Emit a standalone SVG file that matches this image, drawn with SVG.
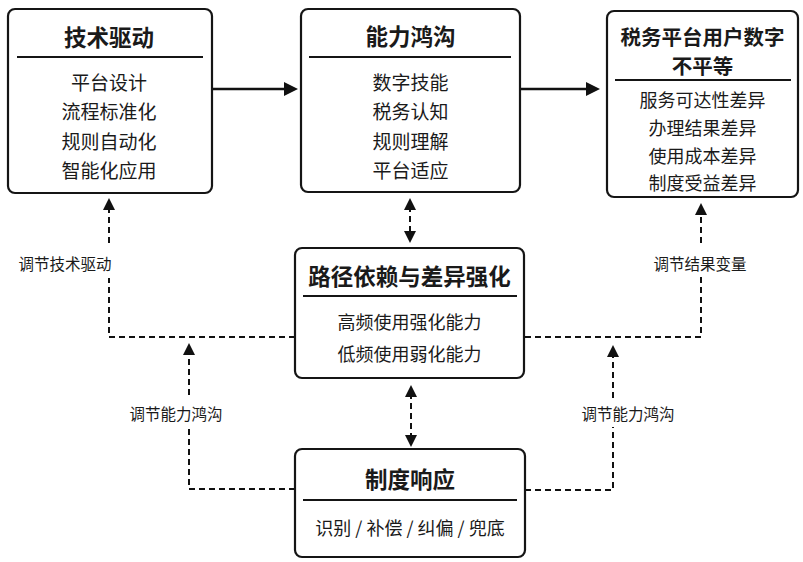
<svg xmlns="http://www.w3.org/2000/svg" width="803" height="562" viewBox="0 0 803 562">
<style>
text{font-family:"Noto Sans CJK SC","Noto Sans",sans-serif;fill:#1a1a1a;text-anchor:middle;dominant-baseline:central}
.box{fill:#fff;stroke:#151515;stroke-width:2.2}
.div{stroke:#151515;stroke-width:2.2}
.t{font-size:22.5px;font-weight:700}
.t3{font-size:20.5px;font-weight:700}
.i{font-size:18px}
.ib{font-size:19px}
.lb{font-size:15.5px}
.solid{fill:none;stroke:#111;stroke-width:2.5}
.dash{fill:none;stroke:#111;stroke-width:2;stroke-dasharray:6 4}
.bg{fill:#fff}
</style>
<defs>
<marker id="ah" viewBox="0 0 12 12" refX="4" refY="6" markerWidth="12" markerHeight="12" markerUnits="userSpaceOnUse" orient="auto-start-reverse">
<path d="M0,0 L12,6 L0,12 z" fill="#111"/>
</marker>
<marker id="ahs" viewBox="0 0 14 14" refX="4" refY="7" markerWidth="14" markerHeight="14" markerUnits="userSpaceOnUse" orient="auto">
<path d="M0,0 L14,7 L0,14 z" fill="#111"/>
</marker>
</defs>
<rect width="803" height="562" fill="#fff"/>
<g id="connectors">
<path class="solid" d="M212,89 H288" marker-end="url(#ahs)"/>
<path class="solid" d="M520,89 H590" marker-end="url(#ahs)"/>
<path class="dash" d="M410,206 V235" marker-start="url(#ah)" marker-end="url(#ah)"/>
<path class="dash" d="M411,393 V439" marker-start="url(#ah)" marker-end="url(#ah)"/>
<path class="dash" d="M295,337 H109 V206" marker-end="url(#ah)"/>
<path class="dash" d="M525,337 H701 V211" marker-end="url(#ah)"/>
<path class="dash" d="M295,489 H189 V351" marker-end="url(#ah)"/>
<path class="dash" d="M525,490 H613 V353" marker-end="url(#ah)"/>
<rect class="bg" x="16" y="247" width="98" height="31"/>
<text class="lb" x="65" y="263">调节技术驱动</text>
<rect class="bg" x="651" y="245" width="98" height="32"/>
<text class="lb" x="700" y="263">调节结果变量</text>
<rect class="bg" x="128" y="398" width="96" height="29"/>
<text class="lb" x="176" y="413">调节能力鸿沟</text>
<rect class="bg" x="579" y="398" width="98" height="29"/>
<text class="lb" x="628" y="413">调节能力鸿沟</text>
</g>
<g id="tech">
<rect class="box" x="8" y="9" width="204" height="184" rx="7"/>
<text class="t" x="109" y="36">技术驱动</text>
<line class="div" x1="17" y1="57" x2="203" y2="57"/>
<text class="ib" x="109" y="81">平台设计</text>
<text class="ib" x="109" y="110.5">流程标准化</text>
<text class="ib" x="109" y="140">规则自动化</text>
<text class="ib" x="109" y="169.5">智能化应用</text>
</g>
<g id="gap">
<rect class="box" x="301" y="9" width="219" height="183" rx="7"/>
<text class="t" x="410.5" y="35">能力鸿沟</text>
<line class="div" x1="309" y1="57" x2="511" y2="57"/>
<text class="ib" x="410.5" y="81">数字技能</text>
<text class="ib" x="410.5" y="110.5">税务认知</text>
<text class="ib" x="410.5" y="140">规则理解</text>
<text class="ib" x="410.5" y="169.5">平台适应</text>
</g>
<g id="inequality">
<rect class="box" x="607" y="11" width="191" height="186" rx="7"/>
<text class="t3" x="702.5" y="36">税务平台用户数字</text>
<text class="t3" x="702.5" y="65">不平等</text>
<line class="div" x1="615" y1="80" x2="791" y2="80"/>
<text class="i" x="702.5" y="99">服务可达性差异</text>
<text class="i" x="702.5" y="127">办理结果差异</text>
<text class="i" x="702.5" y="154.5">使用成本差异</text>
<text class="i" x="702.5" y="182">制度受益差异</text>
</g>
<g id="path">
<rect class="box" x="295" y="248" width="229" height="130" rx="7"/>
<text class="t" x="409.5" y="275">路径依赖与差异强化</text>
<line class="div" x1="303" y1="296" x2="517" y2="296"/>
<text class="i" x="409.5" y="321">高频使用强化能力</text>
<text class="i" x="409.5" y="353">低频使用弱化能力</text>
</g>
<g id="institution">
<rect class="box" x="295" y="449" width="230" height="108" rx="7"/>
<text class="t" x="410" y="478">制度响应</text>
<line class="div" x1="303" y1="500" x2="517" y2="500"/>
<text class="i" x="410" y="527">识别 / 补偿 / 纠偏 / 兜底</text>
</g>
</svg>
